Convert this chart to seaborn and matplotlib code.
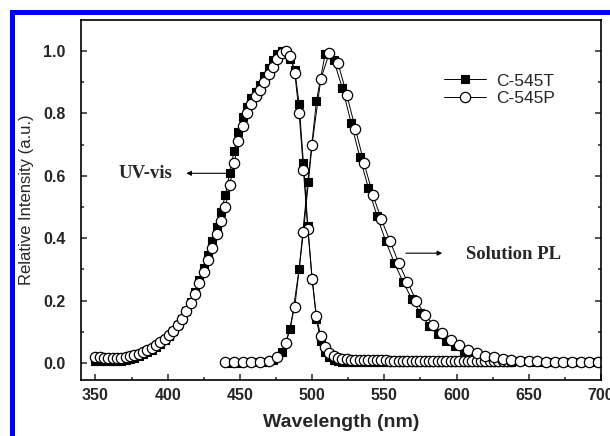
import matplotlib.pyplot as plt
import seaborn as sns
from matplotlib.lines import Line2D
from matplotlib.ticker import MultipleLocator

# UV-vis absorption (3 nm grid)
uv_nm = [350, 353, 356, 359, 362, 365, 368, 371, 374, 377, 380, 383, 386, 389, 392, 395,
         398, 401, 404, 407, 410, 413, 416, 419, 422, 425, 428, 431, 434, 437, 440, 443,
         446, 449, 452, 455, 458, 461, 464, 467, 470, 473, 476, 479, 482, 485, 488, 491,
         494, 497, 500, 503, 506, 509, 512, 515, 518, 521, 524, 527, 530, 533, 536, 539,
         542, 545, 548, 551, 554, 557, 560, 563, 566, 569, 572, 575, 578, 581, 584, 587,
         590, 593, 596, 599, 602, 605, 608, 611, 614, 617, 620, 623, 626, 629, 632, 635, 638]
uv_545p = [0.020, 0.018, 0.017, 0.016, 0.016, 0.016, 0.017, 0.019, 0.022, 0.026, 0.030, 0.035,
           0.042, 0.049, 0.057, 0.067, 0.078, 0.090, 0.104, 0.122, 0.141, 0.166, 0.193, 0.222,
           0.256, 0.293, 0.330, 0.370, 0.415, 0.455, 0.50, 0.57, 0.64, 0.71, 0.76, 0.80,
           0.83, 0.855, 0.875, 0.90, 0.925, 0.95, 0.975, 0.995, 1.0, 0.985, 0.93, 0.80,
           0.62, 0.43, 0.27, 0.15, 0.085, 0.05, 0.032, 0.022, 0.017, 0.014, 0.012, 0.011,
           0.011, 0.010, 0.010, 0.010, 0.009, 0.009, 0.009, 0.009, 0.008, 0.008, 0.008, 0.008,
           0.008, 0.007, 0.007, 0.007, 0.007, 0.007, 0.007, 0.006, 0.006, 0.006, 0.006, 0.006,
           0.006, 0.006, 0.005, 0.005, 0.005, 0.005, 0.005, 0.005, 0.005, 0.005, 0.005, 0.005, 0.005]
uv_545t = [0.008, 0.007, 0.006, 0.006, 0.006, 0.007, 0.008, 0.010, 0.013, 0.017, 0.022, 0.028,
           0.035, 0.043, 0.052, 0.062, 0.074, 0.087, 0.102, 0.121, 0.142, 0.168, 0.197, 0.229,
           0.265, 0.305, 0.346, 0.390, 0.437, 0.485, 0.54, 0.61, 0.68, 0.74, 0.79, 0.82,
           0.85, 0.87, 0.89, 0.92, 0.945, 0.97, 0.99, 1.0, 0.99, 0.975, 0.94, 0.83,
           0.64, 0.44, 0.27, 0.14, 0.07, 0.035, 0.018, 0.010, 0.006, 0.004, 0.004, 0.004,
           0.004, 0.003, 0.003, 0.003, 0.003, 0.003, 0.003, 0.003, 0.003, 0.003, 0.003, 0.002,
           0.002, 0.002, 0.002, 0.002, 0.002, 0.002, 0.002, 0.002, 0.002, 0.002, 0.002, 0.002,
           0.002, 0.002, 0.002, 0.002, 0.002, 0.002, 0.002, 0.002, 0.002, 0.002, 0.002, 0.002, 0.002]

# solution PL (6 nm grid)
pl_nm_p = [440, 446, 452, 458, 464, 470, 476, 482, 488, 494, 500, 506, 512, 518, 524, 530,
           536, 542, 548, 554, 560, 566, 572, 578, 584, 590, 596, 602, 608, 614, 620, 626,
           632, 638, 644, 650, 656, 662, 668, 674, 680, 686, 692, 698]
pl_545p = [0.002, 0.002, 0.002, 0.003, 0.004, 0.008, 0.020, 0.063, 0.18, 0.42, 0.70, 0.91,
           0.995, 0.96, 0.86, 0.75, 0.64, 0.54, 0.46, 0.39, 0.32, 0.26, 0.20, 0.155,
           0.122, 0.095, 0.074, 0.058, 0.043, 0.032, 0.024, 0.018, 0.013, 0.010, 0.008, 0.006,
           0.005, 0.004, 0.004, 0.003, 0.003, 0.003, 0.003, 0.003]
pl_nm_t = [443, 449, 455, 461, 467, 473, 479, 485, 491, 497, 503, 509, 515, 521, 527, 533,
           539, 545, 551, 557, 563, 569, 575, 581, 587, 593, 599, 605, 611, 617, 623, 629,
           635, 641, 647, 653, 659, 665, 671, 677, 683, 689, 695]
pl_545t = [0.001, 0.001, 0.002, 0.002, 0.004, 0.010, 0.035, 0.11, 0.30, 0.58, 0.84, 0.99,
           0.97, 0.88, 0.77, 0.66, 0.56, 0.47, 0.39, 0.32, 0.26, 0.205, 0.16, 0.12,
           0.092, 0.07, 0.053, 0.04, 0.03, 0.022, 0.016, 0.012, 0.009, 0.007, 0.005, 0.004,
           0.003, 0.003, 0.002, 0.002, 0.002, 0.002, 0.002]

nomes = ['C-545T', 'C-545P']

sns.set_style('ticks')
plt.rcParams['font.family'] = ['Liberation Sans', 'DejaVu Sans']

fig = plt.figure(figsize=(6.1, 4.36), dpi=100)
ax = fig.add_axes([81 / 610, 56 / 436, 520 / 610, 360 / 436])

estilo_t = dict(color='black', lw=0.7, marker='s', markersize=5.5,
                markerfacecolor='black', markeredgecolor='black', markeredgewidth=0.8)
estilo_p = dict(color='black', lw=0.7, marker='o', markersize=7.4,
                markerfacecolor='white', markeredgecolor='black', markeredgewidth=0.9)

# squares first, circles drawn on top
sns.lineplot(x=uv_nm, y=uv_545t, ax=ax, **estilo_t)
sns.lineplot(x=pl_nm_t, y=pl_545t, ax=ax, **estilo_t)
sns.lineplot(x=uv_nm, y=uv_545p, ax=ax, **estilo_p)
sns.lineplot(x=pl_nm_p, y=pl_545p, ax=ax, **estilo_p)

ax.set_xlim(340, 700)
ax.set_ylim(-0.0545, 1.0994)
ax.xaxis.set_major_locator(MultipleLocator(50))
ax.xaxis.set_minor_locator(MultipleLocator(25))
ax.yaxis.set_major_locator(MultipleLocator(0.2))
ax.yaxis.set_minor_locator(MultipleLocator(0.1))
ax.yaxis.set_major_formatter(lambda v, p: f'{v:.1f}')
ax.tick_params(which='both', direction='in', right=True, top=False, width=1.1)
ax.tick_params(which='major', length=4.5)
ax.tick_params(which='minor', length=2.5)
ax.tick_params(axis='y', which='major', pad=11)
ax.tick_params(axis='x', which='major', pad=6)
for rotulo in ax.get_xticklabels() + ax.get_yticklabels():
    rotulo.set_fontweight('bold')
    rotulo.set_fontsize(11.5)
for lado in ax.spines.values():
    lado.set_linewidth(1.2)
    lado.set_color('black')

ax.set_xlabel('Wavelength (nm)', fontsize=14, fontweight='bold', labelpad=8)
ax.set_ylabel('Relative Intensity (a.u.)', fontsize=12, labelpad=7)

# annotations
ax.text(384.5, 0.608, 'UV-vis', family='Liberation Serif', fontweight='bold',
        fontsize=13.5, ha='center', va='center')
ax.annotate('', xy=(411, 0.608), xytext=(442, 0.608),
            arrowprops=dict(arrowstyle='-|>', lw=0.8, color='black', mutation_scale=7))
ax.text(639.5, 0.349, 'Solution PL', family='Liberation Serif', fontweight='bold',
        fontsize=13.5, ha='center', va='center')
ax.annotate('', xy=(592, 0.352), xytext=(563, 0.352),
            arrowprops=dict(arrowstyle='-|>', lw=0.8, color='black', mutation_scale=7))

alcas = [Line2D([], [], **estilo_t), Line2D([], [], **estilo_p)]
ax.legend(alcas, nomes, loc='center left', bbox_to_anchor=(0.668, 0.806),
          frameon=False, fontsize=12.5, handlelength=2.4, handletextpad=0.6,
          labelspacing=0.15)

# blue frame around the figure
fig.add_artist(Line2D([12.5 / 610, 12.5 / 610], [0, 1 - 12.5 / 436],
                      transform=fig.transFigure, color='#0000ff', lw=3.6,
                      solid_capstyle='projecting'))
fig.add_artist(Line2D([12.5 / 610, 1], [1 - 12.5 / 436, 1 - 12.5 / 436],
                      transform=fig.transFigure, color='#0000ff', lw=3.6,
                      solid_capstyle='projecting'))

fig.savefig('out.png', dpi=100)
